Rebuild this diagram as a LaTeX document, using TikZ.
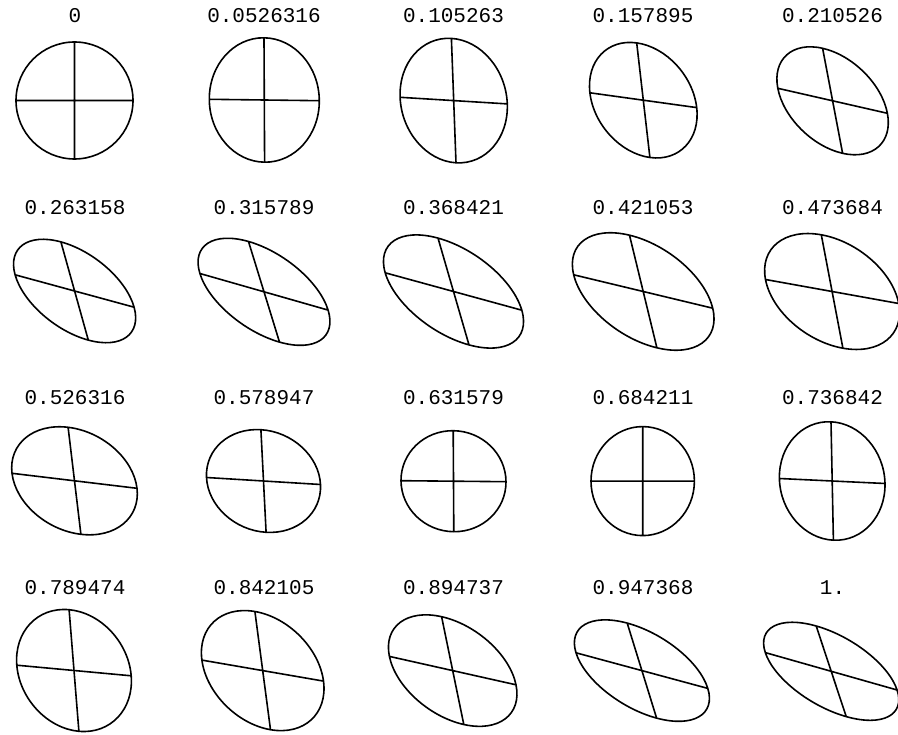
\documentclass[tikz,border=0pt]{standalone}
\usepackage{fontspec}
\setmonofont{Liberation Mono}
\usepackage{tikz}

\begin{document}
\begin{tikzpicture}[x=1pt, y=1pt,
    lbl/.style={font=\ttfamily\fontsize{21}{21}\selectfont, inner sep=0pt},
    disc/.style={line width=1.6pt}]

\useasboundingbox (0,0) rectangle (898,-735);

% row 1
\node[lbl] (t00) at (75,-16) {0};
\node[lbl] (t01) at (264,-16) {0.0526316};
\node[lbl] (t02) at (453.5,-16) {0.105263};
\node[lbl] (t03) at (643,-16) {0.157895};
\node[lbl] (t04) at (832.5,-16) {0.210526};

\draw[disc, cm={58.5,0,0,58.5,(74.5,-100.5)}] (0,0) circle (1) (-1,0) -- (1,0) (0,-1) -- (0,1);
\draw[disc, cm={55,-0.7,-0.3,62.2,(264.3,-100)}] (0,0) circle (1) (-1,0) -- (1,0) (0,-1) -- (0,1);
\draw[disc, cm={53.6,-3.3,-2.3,62.2,(453.7,-100.6)}] (0,0) circle (1) (-1,0) -- (1,0) (0,-1) -- (0,1);
\draw[disc, cm={53.4,-7.4,-6.6,57.3,(643.3,-100.2)}] (0,0) circle (1) (-1,0) -- (1,0) (0,-1) -- (0,1);
\draw[disc, cm={54.8,-12.5,-10,52.5,(832.6,-100.8)}] (0,0) circle (1) (-1,0) -- (1,0) (0,-1) -- (0,1);

% row 2
\node[lbl] (t05) at (75,-207.5) {0.263158};
\node[lbl] (t06) at (264,-207.5) {0.315789};
\node[lbl] (t07) at (453.5,-207.5) {0.368421};
\node[lbl] (t08) at (643,-207.5) {0.421053};
\node[lbl] (t09) at (832.5,-207.5) {0.473684};

\draw[disc, cm={59.5,-16.2,-13.7,49.1,(74.6,-291)}] (0,0) circle (1) (-1,0) -- (1,0) (0,-1) -- (0,1);
\draw[disc, cm={64.1,-18.3,-15.5,50.3,(264,-291.8)}] (0,0) circle (1) (-1,0) -- (1,0) (0,-1) -- (0,1);
\draw[disc, cm={68.3,-18.7,-15.5,53.4,(453.5,-291.5)}] (0,0) circle (1) (-1,0) -- (1,0) (0,-1) -- (0,1);
\draw[disc, cm={69.5,-16.7,-13.7,56.3,(643.2,-291.5)}] (0,0) circle (1) (-1,0) -- (1,0) (0,-1) -- (0,1);
\draw[disc, cm={66.6,-12,-10.8,56.7,(832.1,-291.5)}] (0,0) circle (1) (-1,0) -- (1,0) (0,-1) -- (0,1);

% row 3
\node[lbl] (t10) at (75,-397.5) {0.526316};
\node[lbl] (t11) at (264,-397.5) {0.578947};
\node[lbl] (t12) at (453.5,-397.5) {0.631579};
\node[lbl] (t13) at (643,-397.5) {0.684211};
\node[lbl] (t14) at (832.5,-397.5) {0.736842};

\draw[disc, cm={62.5,-7.5,-6.4,53.5,(74.5,-480.8)}] (0,0) circle (1) (-1,0) -- (1,0) (0,-1) -- (0,1);
\draw[disc, cm={57,-3.5,-2.6,51.3,(263.5,-481)}] (0,0) circle (1) (-1,0) -- (1,0) (0,-1) -- (0,1);
\draw[disc, cm={52.5,-0.5,-0.3,50.5,(453.5,-481.2)}] (0,0) circle (1) (-1,0) -- (1,0) (0,-1) -- (0,1);
\draw[disc, cm={51.7,0,0,54.5,(642.7,-481.1)}] (0,0) circle (1) (-1,0) -- (1,0) (0,-1) -- (0,1);
\draw[disc, cm={52.8,-2.5,-1.2,59.2,(832.2,-481)}] (0,0) circle (1) (-1,0) -- (1,0) (0,-1) -- (0,1);

% row 4
\node[lbl] (t15) at (75,-587.5) {0.789474};
\node[lbl] (t16) at (264,-587.5) {0.842105};
\node[lbl] (t17) at (453.5,-587.5) {0.894737};
\node[lbl] (t18) at (643,-587.5) {0.947368};
\node[lbl] (t19) at (832.5,-587.5) {1.};

\draw[disc, cm={57.2,-5.3,-4.9,60.8,(74,-670.5)}] (0,0) circle (1) (-1,0) -- (1,0) (0,-1) -- (0,1);
\draw[disc, cm={60.8,-10.5,-7.8,59.1,(262.7,-670.6)}] (0,0) circle (1) (-1,0) -- (1,0) (0,-1) -- (0,1);
\draw[disc, cm={63.3,-14.2,-11.1,53.9,(452.7,-670.6)}] (0,0) circle (1) (-1,0) -- (1,0) (0,-1) -- (0,1);
\draw[disc, cm={65.9,-17.8,-14.7,47.5,(641.9,-670.6)}] (0,0) circle (1) (-1,0) -- (1,0) (0,-1) -- (0,1);
\draw[disc, cm={65.9,-18.7,-15,45.3,(831.2,-671.3)}] (0,0) circle (1) (-1,0) -- (1,0) (0,-1) -- (0,1);

\end{tikzpicture}
\end{document}
